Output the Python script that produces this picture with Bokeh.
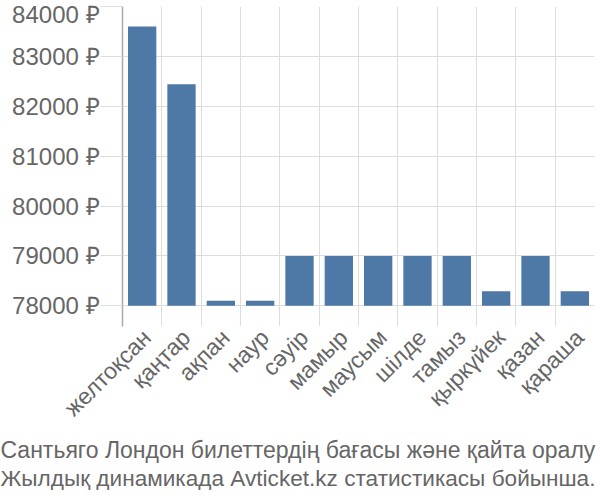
import math
from bokeh.plotting import figure
from bokeh.models import (Range1d, FixedTicker, PrintfTickFormatter, Title, ColumnDataSource)
from bokeh.embed import file_html
from bokeh.resources import INLINE

months = ["желтоқсан", "қаңтар", "ақпан", "наур", "сәуір", "мамыр", "маусым",
          "шілде", "тамыз", "қыркүйек", "қазан", "қараша"]
prices = [83600, 82440, 78100, 78100, 79000, 79000, 79000, 79000, 79000, 78290, 79000, 78290]
y_ticks = [78000, 79000, 80000, 81000, 82000, 83000, 84000]
title_lines = ["Сантьяго Лондон билеттердің бағасы және қайта оралу",
               "Жылдық динамикада Avticket.kz статистикасы бойынша."]
base = 78000

W, H = 600, 490
p = figure(width=W, height=H, output_backend="svg", toolbar_location=None,
           x_range=Range1d(0, len(months)), y_range=Range1d(77585, 84000),
           min_border_left=122, min_border_right=6, min_border_top=6, min_border_bottom=100)
p.outline_line_color = None

xs = [i + 0.5 for i in range(len(months))]
src = ColumnDataSource(dict(x=xs, top=prices, bottom=[base] * len(prices)))
p.vbar(x="x", top="top", bottom="bottom", width=0.72, source=src,
       fill_color="#4e79a7", line_color="#4e79a7", line_alpha=0.0)

txt = "#666666"
# x axis (labels nudged right so their ends sit at the bar centres like the reference)
label_pos = [x + 0.12 for x in xs]
p.xaxis.ticker = FixedTicker(ticks=label_pos)
p.xaxis.major_label_overrides = {x: m for x, m in zip(label_pos, months)}
p.xaxis.major_label_orientation = math.pi / 4
p.xaxis.axis_line_color = None
p.xaxis.major_tick_line_color = None
p.xaxis.minor_tick_line_color = None
p.xaxis.major_label_text_font = "Liberation Sans"
p.xaxis.major_label_text_font_size = "23px"
p.xaxis.major_label_text_color = txt
p.xaxis.major_label_standoff = 1
p.xgrid.ticker = FixedTicker(ticks=list(range(len(months) + 1)))
p.xgrid.grid_line_color = "#dddddd"

# y axis
p.yaxis.ticker = FixedTicker(ticks=y_ticks)
p.yaxis.formatter = PrintfTickFormatter(format="%d ₽")
p.yaxis.axis_line_color = "#aaaaaa"
p.yaxis.axis_line_width = 1.5
p.yaxis.major_tick_line_color = "#dddddd"
p.yaxis.major_tick_out = 22
p.yaxis.major_tick_in = 0
p.yaxis.minor_tick_line_color = None
p.yaxis.major_label_text_font = "Liberation Sans"
p.yaxis.major_label_text_font_size = "24px"
p.yaxis.major_label_text_color = txt
p.yaxis.major_label_standoff = 1
p.ygrid.grid_line_color = "#dddddd"

title_sizes = ["23px", "22.6px"]
for i, line in enumerate(title_lines):
    p.add_layout(Title(text=line, align="left", offset=-122, standoff=2 if i == 0 else 0,
                       text_font="Liberation Sans", text_font_size=title_sizes[i],
                       text_font_style="normal", text_color=txt), "below")

open("out.html", "w").write(file_html(p, INLINE))
